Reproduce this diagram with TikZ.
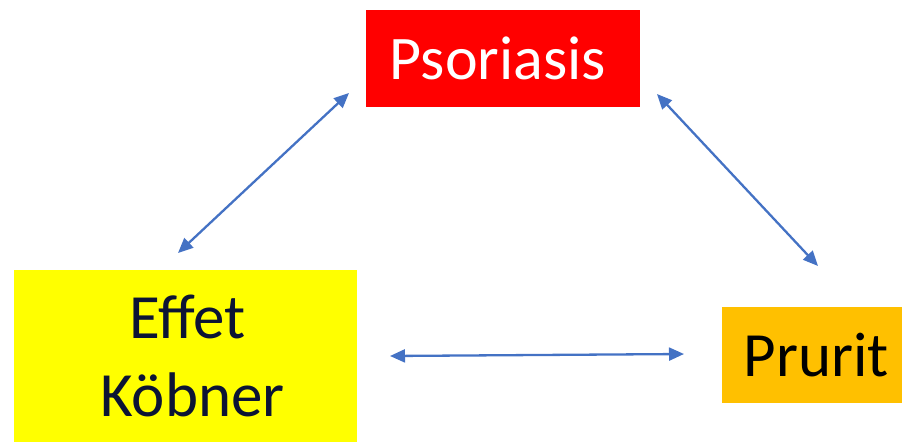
\documentclass[tikz,border=0pt]{standalone}
\usepackage{fontspec}
\setmainfont{Carlito}
\usetikzlibrary{arrows.meta}
\definecolor{psored}{RGB}{255,0,0}
\definecolor{kyellow}{RGB}{255,255,0}
\definecolor{porange}{RGB}{255,192,0}
\definecolor{arrblue}{RGB}{68,114,196}
\definecolor{navytext}{RGB}{12,20,52}
\tikzset{
  box/.style={rectangle, inner sep=0pt, draw=none},
  link/.style={draw=arrblue, line width=2.3pt, {Triangle[length=15pt,width=13pt]}-{Triangle[length=15pt,width=13pt]}},
}
\begin{document}
\begin{tikzpicture}[x=1pt,y=-1pt]
\useasboundingbox (0,0) rectangle (902,442);
\node[box, fill=psored, minimum width=274pt, minimum height=97pt, text=white,
      font=\fontsize{62}{74}\selectfont] (pso) at (503,58.5) {\hspace{-10pt}Psoriasis};
\node[box, fill=kyellow, minimum width=343pt, minimum height=172pt, text=navytext,
      align=center, font=\fontsize{63}{78}\selectfont] (kob) at (185.5,356) {\hspace{4pt}Effet\\\hspace{14pt}Köbner};
\node[box, fill=porange, minimum width=180pt, minimum height=96pt, text=black,
      font=\fontsize{63}{74}\selectfont] (pru) at (812,355) {\hspace{8pt}Prurit};
\coordinate (a1) at (178,253);
\coordinate (a2) at (349,93);
\coordinate (b1) at (657,94);
\coordinate (b2) at (818,266);
\coordinate (c1) at (390,356);
\coordinate (c2) at (684,354);
\draw[link] (a1) -- (a2);
\draw[link] (b1) -- (b2);
\draw[link] (c1) -- (c2);
\end{tikzpicture}
\end{document}
